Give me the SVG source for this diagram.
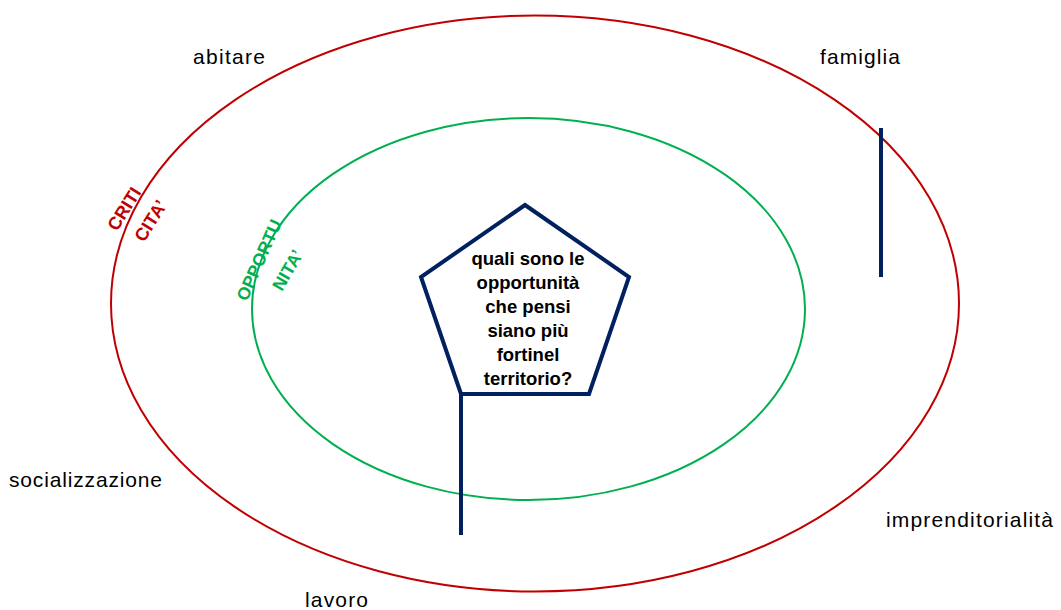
<svg xmlns="http://www.w3.org/2000/svg" width="1061" height="610" viewBox="0 0 1061 610">
<style>
.lbl{font-family:"Liberation Sans",Arial,sans-serif;font-size:21px;fill:#000}
.q{font-family:"Liberation Sans",Arial,sans-serif;font-size:18.5px;font-weight:bold;fill:#000;text-anchor:middle}
.red{font-family:"Liberation Sans",Arial,sans-serif;font-size:18px;font-weight:bold;fill:#C00000}
.grn{font-family:"Liberation Sans",Arial,sans-serif;font-size:17.5px;font-weight:bold;fill:#00B050}
.nav{stroke:#002060;stroke-width:4;fill:none}
</style>
<rect width="1061" height="610" fill="#fff"/>
<g id="outer">
<ellipse cx="535" cy="303.5" rx="424" ry="288" fill="none" stroke="#C00000" stroke-width="2"/>
<text class="red" transform="translate(117,232) rotate(-58)">CRITI</text>
<text class="red" transform="translate(144,243) rotate(-58)">CITA’</text>
</g>
<g id="inner">
<ellipse cx="528.5" cy="309" rx="276.5" ry="191" fill="none" stroke="#00B050" stroke-width="2"/>
<text class="grn" transform="translate(247,302) rotate(-66)">OPPORTU</text>
<text class="grn" transform="translate(282,292) rotate(-60)">NITA’</text>
</g>
<g id="connectors">
<line class="nav" x1="461" y1="394" x2="461" y2="535"/>
<line class="nav" x1="881" y1="128" x2="881" y2="277"/>
</g>
<g id="question">
<polygon class="nav" points="525,205 629,277 589,394 461,394 421,277" stroke-linejoin="miter"/>
<text class="q" x="528" y="265">quali sono le</text>
<text class="q" x="528" y="289">opportunità</text>
<text class="q" x="528" y="313">che pensi</text>
<text class="q" x="528" y="337">siano più</text>
<text class="q" x="528" y="361">fortinel</text>
<text class="q" x="528" y="385">territorio?</text>
</g>
<g id="labels">
<text class="lbl" x="193" y="64" textLength="72">abitare</text>
<text class="lbl" x="820" y="64" textLength="80">famiglia</text>
<text class="lbl" x="9" y="487" textLength="153">socializzazione</text>
<text class="lbl" x="886" y="527" textLength="167">imprenditorialità</text>
<text class="lbl" x="305" y="607" textLength="63">lavoro</text>
</g>
</svg>
